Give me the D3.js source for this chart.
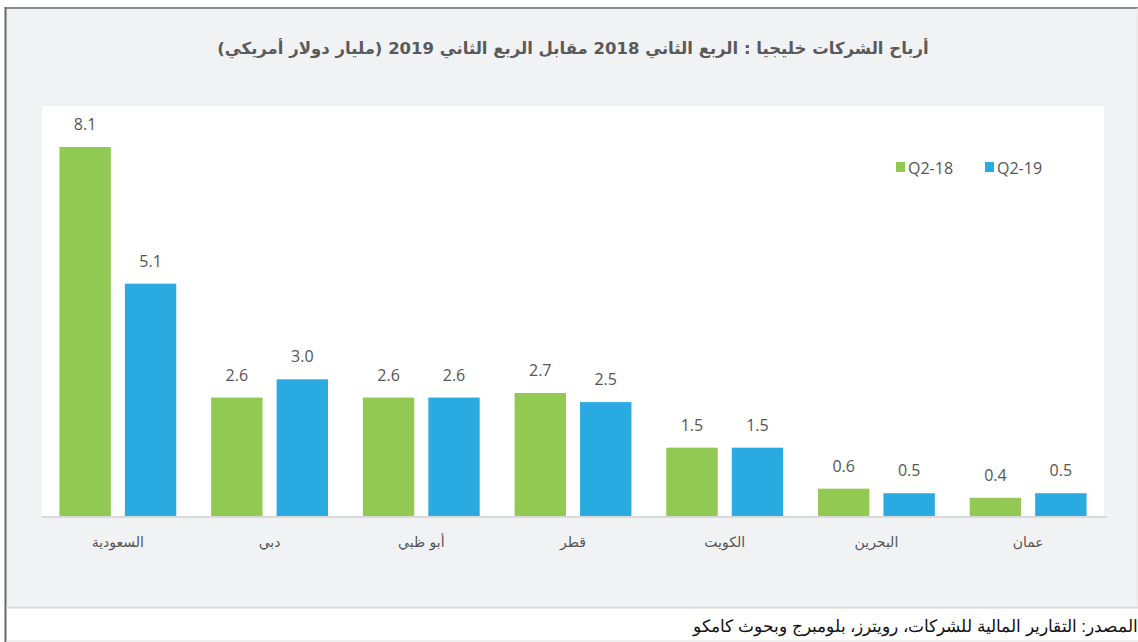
<!DOCTYPE html>
<html>
<head>
<meta charset="utf-8">
<script src="https://cdn.jsdelivr.net/npm/d3@7"></script>
<style>
  body { margin: 0; background: #fff; }
  svg { display: block; }
</style>
</head>
<body>
<div id="chart"></div>
<script>
// الدول (من اليسار إلى اليمين كما في الرسم)
const categories = ["السعودية", "دبي", "أبو ظبي", "قطر", "الكويت", "البحرين", "عمان"];
const seriesNames = ["Q2-18", "Q2-19"];
const q2_18 = [8.1, 2.6, 2.6, 2.7, 1.5, 0.6, 0.4];
const q2_19 = [5.1, 3.0, 2.6, 2.5, 1.5, 0.5, 0.5];
const titleText = "أرباح الشركات خليجيا : الربع الثاني 2018 مقابل الربع الثاني  2019 (مليار دولار أمريكي)";
const sourceText = "المصدر: التقارير المالية للشركات، رويترز، بلومبرج وبحوث كامكو";

const width = 1138, height = 642;
const colors = { "Q2-18": "#92c953", "Q2-19": "#29abe2" };
const plot = { left: 42, right: 1104, top: 106, bottom: 516 };

const svg = d3.select("#chart").append("svg")
    .attr("width", width)
    .attr("height", height);

// اللوحة الرمادية والإطار
svg.append("rect").attr("x", 6).attr("y", 8).attr("width", 1131).attr("height", 599)
    .attr("fill", "#f1f2f4");
svg.append("line").attr("x1", 5).attr("x2", 1138).attr("y1", 8).attr("y2", 8)
    .attr("stroke", "#8a8a8a").attr("stroke-width", 2);
svg.append("line").attr("x1", 5.5).attr("x2", 5.5).attr("y1", 7).attr("y2", 642)
    .attr("stroke", "#666").attr("stroke-width", 2);
svg.append("line").attr("x1", 6).attr("x2", 1138).attr("y1", 607.5).attr("y2", 607.5)
    .attr("stroke", "#dcdcdc").attr("stroke-width", 2);
svg.append("line").attr("x1", 1137).attr("x2", 1137).attr("y1", 8).attr("y2", 607)
    .attr("stroke", "#e2e2e2").attr("stroke-width", 1);
svg.append("line").attr("x1", 6).attr("x2", 1138).attr("y1", 641).attr("y2", 641)
    .attr("stroke", "#dcdcdc").attr("stroke-width", 1);

// منطقة الرسم البيضاء
svg.append("rect")
    .attr("x", plot.left).attr("y", plot.top)
    .attr("width", plot.right - plot.left).attr("height", plot.bottom - plot.top)
    .attr("fill", "#fff");

// العنوان
svg.append("text")
    .attr("x", 573).attr("y", 54)
    .attr("text-anchor", "middle")
    .attr("direction", "rtl")
    .style("font-family", "'DejaVu Sans', 'Noto Sans', sans-serif")
    .style("font-size", "16.5px")
    .style("font-weight", "bold")
    .attr("fill", "#5a5a5a")
    .text(titleText);

// المقاييس
const x0 = d3.scaleBand()
    .domain(categories)
    .range([plot.left, plot.right])
    .paddingInner(0.23)
    .paddingOuter(0.115);

const x1 = d3.scaleBand()
    .domain(seriesNames)
    .range([0, x0.bandwidth()])
    .paddingInner(0.215)
    .paddingOuter(0);

const y = d3.scaleLinear()
    .domain([0, 9])
    .range([plot.bottom, plot.top]);

const rows = categories.map((c, i) => ({
    category: c,
    values: [
        { key: "Q2-18", value: q2_18[i] },
        { key: "Q2-19", value: q2_19[i] }
    ]
}));

const groups = svg.selectAll(".group")
    .data(rows)
    .enter()
    .append("g")
    .attr("transform", d => `translate(${x0(d.category)},0)`);

groups.selectAll("rect")
    .data(d => d.values)
    .enter()
    .append("rect")
    .attr("x", d => x1(d.key))
    .attr("y", d => y(d.value))
    .attr("width", x1.bandwidth())
    .attr("height", d => y(0) - y(d.value))
    .attr("fill", d => colors[d.key]);

// قيم الأعمدة
groups.selectAll(".val")
    .data(d => d.values)
    .enter()
    .append("text")
    .attr("x", d => x1(d.key) + x1.bandwidth() / 2)
    .attr("y", d => y(d.value) - 17)
    .attr("text-anchor", "middle")
    .style("font-family", "'Open Sans', sans-serif")
    .style("font-size", "16px")
    .attr("fill", "#555")
    .text(d => d.value.toFixed(1));

// خط الأساس
svg.append("line")
    .attr("x1", plot.left).attr("x2", plot.right + 3)
    .attr("y1", plot.bottom + 1).attr("y2", plot.bottom + 1)
    .attr("stroke", "#d9d9d9").attr("stroke-width", 2);

// محور الفئات
const xAxis = svg.append("g")
    .attr("transform", `translate(0,${plot.bottom})`)
    .call(d3.axisBottom(x0).tickSize(0).tickPadding(21));
xAxis.select(".domain").remove();
xAxis.selectAll("text")
    .attr("direction", "rtl")
    .style("font-family", "'DejaVu Sans', 'Noto Sans', sans-serif")
    .style("font-size", "14px")
    .attr("fill", "#555");

// وسيلة الإيضاح
const legend = svg.append("g");
const legendX = [896, 985];
seriesNames.forEach((s, i) => {
    legend.append("rect")
        .attr("x", legendX[i]).attr("y", 162)
        .attr("width", 9).attr("height", 10)
        .attr("fill", colors[s]);
    legend.append("text")
        .attr("x", legendX[i] + 12).attr("y", 174)
        .style("font-family", "'Open Sans', sans-serif")
        .style("font-size", "16px")
        .attr("fill", "#555")
        .text(s);
});

// المصدر
svg.append("text")
    .attr("x", 1138).attr("y", 632)
    .attr("text-anchor", "start")
    .attr("direction", "rtl")
    .style("font-family", "'Liberation Sans', Arial, sans-serif")
    .style("font-size", "17px")
    .attr("fill", "#111")
    .text(sourceText);
</script>
</body>
</html>
